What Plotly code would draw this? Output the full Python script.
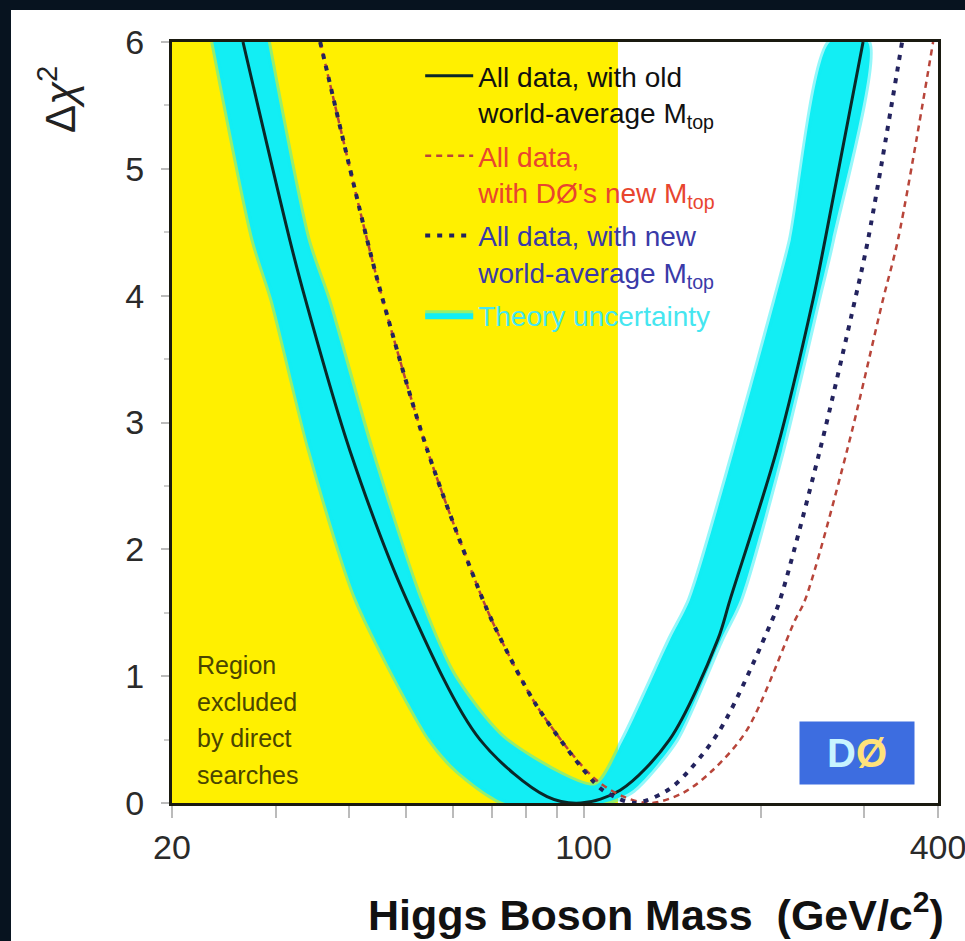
import plotly.graph_objects as go

# ---------------- data ----------------
x_min, x_max = 20, 400
y_min, y_max = 0, 6
lep_limit = 114.4  # region excluded by direct searches (GeV)

x_tick_vals = [20, 100, 400]
x_tick_text = ["20", "100", "400"]
x_minor_vals = [30, 40, 50, 60, 70, 80, 90, 200, 300]
y_tick_vals = [0, 1, 2, 3, 4, 5, 6]

# All data, with old world-average Mtop (solid black)
old_m = [26.4, 31.7, 33.7, 40.1, 50.1, 66.7, 86.7, 99.0, 115.4, 140.0, 169.1, 177.3, 212.8, 245.4, 257.2, 298.4]
old_d = [6.0, 4.44, 3.97, 2.78, 1.60, 0.50, 0.05, 0.0, 0.10, 0.50, 1.29, 1.60, 2.78, 3.97, 4.44, 6.0]

# All data, with DØ's new Mtop (red dashed)
d0_m = [35.7, 42.9, 45.6, 54.3, 67.5, 72.4, 83.7, 104.0, 117.0, 130.0, 147.6, 165.9, 189.5, 228.6, 237.8, 280.3, 322.6, 342.0, 392.4]
d0_d = [6.0, 4.44, 3.97, 2.78, 1.60, 1.29, 0.75, 0.20, 0.05, 0.0, 0.08, 0.26, 0.576, 1.44, 1.60, 2.78, 3.97, 4.44, 6.0]

# All data, with new world-average Mtop (blue dotted)
new_m = [35.7, 42.9, 45.6, 54.3, 67.5, 72.4, 83.7, 104.4, 109.6, 122.0, 136.5, 145.8, 170.5, 209.0, 215.6, 252.0, 289.2, 304.2, 347.6]
new_d = [6.0, 4.44, 3.97, 2.78, 1.60, 1.29, 0.75, 0.16, 0.08, 0.0, 0.08, 0.18, 0.576, 1.44, 1.60, 2.78, 3.97, 4.44, 6.0]

# Theory uncertainty band: outer edge (left -> right), inner edge (right -> left)
band_outer_m = [23.5, 27.5, 29.6, 34.3, 41.2, 54.9, 61.2, 73.6, 107.9, 121.3, 143.6, 171.2, 184.4, 217.4, 250.2, 264.3, 304.0]
band_outer_d = [6.0, 4.44, 3.97, 2.78, 1.60, 0.50, 0.25, 0.0, 0.0, 0.10, 0.50, 1.29, 1.60, 2.78, 3.97, 4.44, 6.0]
band_inner_m = [262.2, 225.0, 211.8, 180.2, 151.6, 140.3, 116.9, 104.6, 73.6, 60.3, 52.8, 43.6, 36.8, 34.0, 29.1]
band_inner_d = [6.0, 4.44, 3.97, 2.78, 1.60, 1.29, 0.50, 0.14, 0.50, 1.00, 1.60, 2.78, 3.97, 4.44, 6.0]

region_lines = ["Region", "excluded", "by direct", "searches"]

# ---------------- styles ----------------
FONT = "Liberation Sans, Arial, sans-serif"
YELLOW = "#FFF000"
CYAN = "#12EEF4"
BLACK_LINE = "#0A2828"
RED_LINE = "#B8453A"
BLUE_LINE = "#23235E"
RED_TEXT = "#E8452F"
BLUE_TEXT = "#3A3AA8"
CYAN_TEXT = "#45E6F0"
DARK_BG = "#07131F"

fig = go.Figure()

# excluded region
fig.add_trace(go.Scatter(
    x=[x_min, lep_limit, lep_limit, x_min], y=[y_min, y_min, y_max, y_max],
    fill="toself", fillcolor=YELLOW, line=dict(width=0), mode="lines",
    showlegend=False, hoverinfo="skip"))

# theory band
fig.add_trace(go.Scatter(
    x=band_outer_m + band_inner_m, y=band_outer_d + band_inner_d,
    fill="toself", fillcolor=CYAN, mode="lines",
    line=dict(color="rgba(18,238,244,0.45)", width=6, shape="spline", smoothing=0.7),
    name=f"<span style='color:{CYAN_TEXT}'>Theory uncertainty</span>",
    legendgroup="d", legendrank=4))

fig.add_trace(go.Scatter(
    x=old_m, y=old_d, mode="lines",
    line=dict(color=BLACK_LINE, width=3, shape="spline", smoothing=0.9),
    name="All data, with old<br>world-average M<sub>top</sub>",
    legendgroup="a", legendrank=1))

fig.add_trace(go.Scatter(
    x=d0_m, y=d0_d, mode="lines",
    line=dict(color=RED_LINE, width=2.5, dash="6px,5px", shape="spline", smoothing=0.9),
    name=f"<span style='color:{RED_TEXT}'>All data,</span><br><span style='color:{RED_TEXT}'>with DØ's new M<sub>top</sub></span>",
    legendgroup="b", legendrank=2))

fig.add_trace(go.Scatter(
    x=new_m, y=new_d, mode="lines",
    line=dict(color=BLUE_LINE, width=4, dash="5px,7px", shape="spline", smoothing=0.9),
    name=f"<span style='color:{BLUE_TEXT}'>All data, with new</span><br><span style='color:{BLUE_TEXT}'>world-average M<sub>top</sub></span>",
    legendgroup="c", legendrank=3))

# region label
annotations = []
for i, line in enumerate(region_lines):
    annotations.append(dict(
        text=line, x=0.030, y=0.181 - i * 0.048, xref="paper", yref="paper",
        xanchor="left", yanchor="middle", showarrow=False,
        font=dict(family=FONT, size=25, color="#4A4500")))

# axis titles
annotations.append(dict(
    text="Δ<i>χ</i><sup>2</sup>", x=-0.150, y=0.924, xref="paper", yref="paper",
    textangle=-90, showarrow=False, xanchor="center", yanchor="middle",
    font=dict(family=FONT, size=42, color="#222222")))
annotations.append(dict(
    text="Higgs Boson Mass\u00a0 (GeV/c<sup>2</sup>)", x=0.632, y=-0.143,
    xref="paper", yref="paper", showarrow=False, xanchor="center", yanchor="middle",
    font=dict(family=FONT, size=43, color="#111111", weight="bold")))

# DØ logo
annotations.append(dict(
    text="<span style='color:#C8F4FF'>D</span><span style='color:#FFE27A'>Ø</span>",
    x=0.894, y=0.066, xref="paper", yref="paper", showarrow=False,
    xanchor="center", yanchor="middle", width=112, height=60,
    bgcolor="#3D6DE0", font=dict(family=FONT, size=40, weight="bold")))

fig.update_layout(
    width=965, height=941,
    margin=dict(l=172, r=27, t=42, b=138, autoexpand=False),
    paper_bgcolor=DARK_BG, plot_bgcolor="white",
    shapes=[dict(type="rect", xref="paper", yref="paper",
                 x0=-0.2102, x1=1.06, y0=-0.2, y1=1.042,
                 fillcolor="white", line=dict(width=0), layer="below")],
    annotations=annotations,
    legend=dict(x=0.324, y=0.988, xanchor="left", yanchor="top",
                bgcolor="rgba(0,0,0,0)", font=dict(family=FONT, size=28, color="#111111"),
                itemwidth=48, tracegroupgap=4, valign="top"),
    showlegend=True,
)

fig.update_xaxes(
    type="log", range=[1.30103, 2.60206], tickvals=x_tick_vals, ticktext=x_tick_text,
    ticks="outside", ticklen=12, tickcolor="#BBBBBB", tickwidth=2,
    minor=dict(tickvals=x_minor_vals, ticks="outside", ticklen=12, tickcolor="#BBBBBB", tickwidth=2),
    showline=True, linecolor="#1A1A10", linewidth=3, mirror=True, automargin=False,
    showgrid=False, zeroline=False, ticklabelstandoff=0, ticklabeloverflow="allow",
    tickfont=dict(family=FONT, size=34, color="#2A2A2A"))

fig.update_yaxes(
    range=[y_min, y_max], tickvals=y_tick_vals,
    ticks="outside", ticklen=8, tickcolor="#BBBBBB", tickwidth=2,
    minor=dict(dtick=0.5, ticks="outside", ticklen=5, tickcolor="#CCCCCC"),
    showline=True, linecolor="#1A1A10", linewidth=3, mirror=True, automargin=False,
    showgrid=False, zeroline=False, ticklabelstandoff=10, ticklabeloverflow="allow",
    tickfont=dict(family=FONT, size=34, color="#2A2A2A"))

fig.write_html("out.html", config={"displayModeBar": False},
               post_script="document.body.style.margin='0';document.body.style.background='" + DARK_BG + "';")
